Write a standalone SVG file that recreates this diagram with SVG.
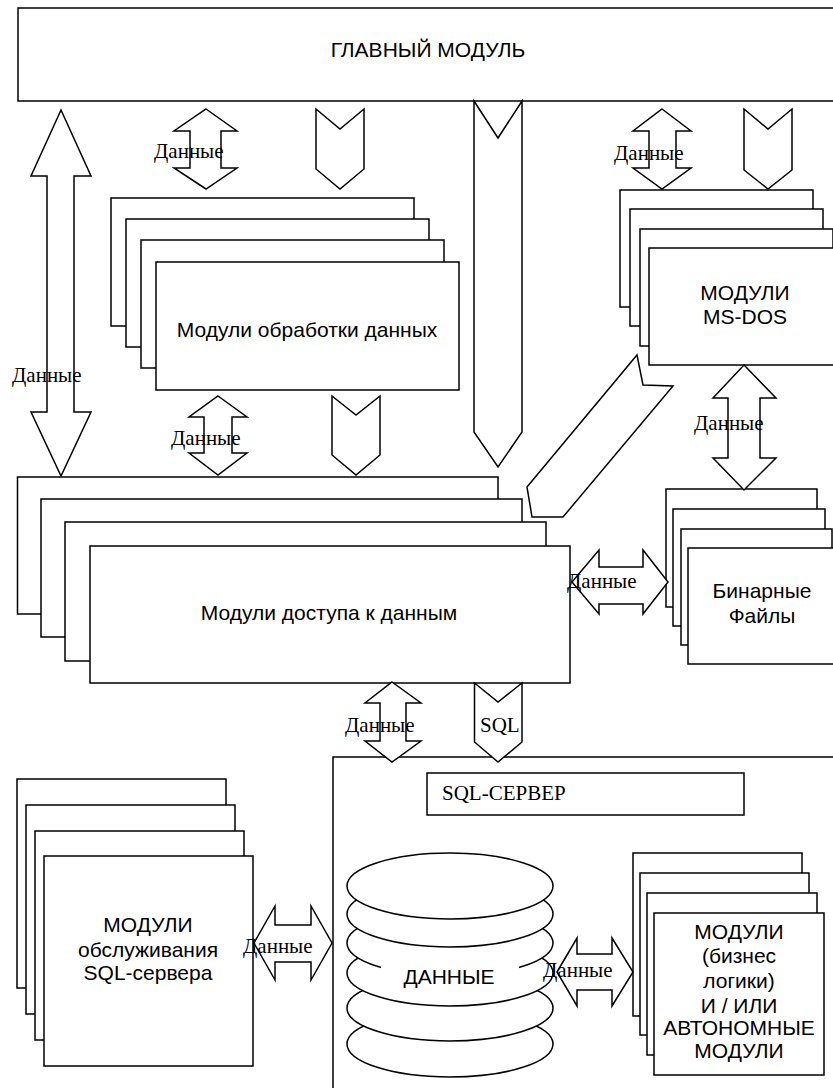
<svg xmlns="http://www.w3.org/2000/svg" width="833" height="1088" viewBox="0 0 833 1088">
<style>
.b{fill:#fff;stroke:#000;stroke-width:1.5}
.s{font-family:"Liberation Sans",Arial,sans-serif;font-size:21px;fill:#000;text-anchor:middle}
.r{font-family:"Liberation Serif","Times New Roman",serif;font-size:21px;fill:#000}
</style>
<rect x="0" y="0" width="833" height="1088" fill="#fff"/>

<g id="main-module">
<rect class="b" x="18" y="8" width="830" height="93"/>
<text class="s" x="428" y="57" font-size="20">ГЛАВНЫЙ МОДУЛЬ</text>
</g>

<g id="sql-server">
<rect class="b" x="333" y="757" width="520" height="400"/>
<rect class="b" x="427" y="773" width="317" height="42"/>
<text class="r" x="442" y="800">SQL-СЕРВЕР</text>
</g>

<g id="processing-modules">
<rect class="b" x="111" y="198" width="303" height="128"/>
<rect class="b" x="126" y="219" width="303" height="128"/>
<rect class="b" x="141" y="240" width="303" height="128"/>
<rect class="b" x="156" y="262" width="303" height="128"/>
<text class="s" x="307" y="337">Модули обработки данных</text>
</g>

<g id="msdos-modules">
<rect class="b" x="620" y="190" width="193" height="117"/>
<rect class="b" x="630" y="209" width="193" height="117"/>
<rect class="b" x="640" y="229" width="193" height="117"/>
<rect class="b" x="649" y="248" width="200" height="117"/>
<text class="s" x="745" y="300">МОДУЛИ</text>
<text class="s" x="745" y="324">MS-DOS</text>
</g>

<g id="access-modules">
<rect class="b" x="17.5" y="477" width="480.5" height="137"/>
<rect class="b" x="41" y="499" width="481" height="138"/>
<rect class="b" x="65" y="522" width="481" height="139"/>
<rect class="b" x="90" y="546" width="480" height="137"/>
<text class="s" x="329" y="620">Модули доступа к данным</text>
</g>

<g id="binary-files">
<rect class="b" x="666" y="489" width="151" height="118"/>
<rect class="b" x="673" y="509" width="152" height="117"/>
<rect class="b" x="681" y="529" width="151" height="116"/>
<rect class="b" x="688" y="548" width="160" height="116"/>
<text class="s" x="762" y="598">Бинарные</text>
<text class="s" x="762" y="623">Файлы</text>
</g>

<g id="maintenance-modules">
<rect class="b" x="17" y="779" width="209" height="209"/>
<rect class="b" x="26" y="805" width="209" height="209"/>
<rect class="b" x="35" y="831" width="209" height="209"/>
<rect class="b" x="44" y="856" width="209" height="210"/>
<text class="s" x="148" y="932">МОДУЛИ</text>
<text class="s" x="148" y="957">обслуживания</text>
<text class="s" x="148" y="980">SQL-сервера</text>
</g>

<g id="data-store">
<ellipse class="b" cx="450" cy="1044" rx="103" ry="33"/>
<ellipse class="b" cx="450" cy="1008" rx="103" ry="33"/>
<ellipse class="b" cx="450" cy="973" rx="103" ry="33"/>
<ellipse class="b" cx="450" cy="943" rx="103" ry="33"/>
<ellipse class="b" cx="450" cy="914" rx="103" ry="33"/>
<ellipse class="b" cx="450" cy="886" rx="103" ry="33"/>
<rect x="381" y="955" width="138" height="36" fill="#fff"/>
<text class="s" x="449" y="984">ДАННЫЕ</text>
</g>

<g id="business-modules">
<rect class="b" x="633" y="853" width="169" height="163"/>
<rect class="b" x="640" y="873" width="169" height="162"/>
<rect class="b" x="647" y="893" width="170" height="162"/>
<rect class="b" x="654" y="913" width="170" height="162"/>
<text class="s" x="739" y="939">МОДУЛИ</text>
<text class="s" x="739" y="963">(бизнес</text>
<text class="s" x="739" y="988">логики)</text>
<text class="s" x="739" y="1013">И / ИЛИ</text>
<text class="s" x="739" y="1035">АВТОНОМНЫЕ</text>
<text class="s" x="739" y="1058">МОДУЛИ</text>
</g>

<g id="connectors">
<!-- vertical double arrows -->
<polygon class="b" points="206,109 237,131 221,131 221,168 237,168 206,189 174,168 190,168 190,131 174,131"/>
<polygon class="b" points="61,110 91,176 74,176 74,412 91,412 61,476 31,412 47,412 47,176 31,176"/>
<polygon class="b" points="218,396 247,417 232,417 232,453 247,453 218,475 189,453 204,453 204,417 189,417"/>
<polygon class="b" points="662,109 691,131 676,131 676,168 691,168 662,189 633,168 649,168 649,131 633,131"/>
<polygon class="b" points="744,365 776,398 760,398 760,458 776,458 744,490 713,458 728,458 728,398 713,398"/>
<polygon class="b" points="392,682 421,703 406,703 406,741 421,741 392,762 365,741 380,741 380,703 365,703"/>
<!-- horizontal double arrows -->
<polygon class="b" points="572,582 599,550 599,567 643,567 643,550 668,582 643,614 643,604 599,604 599,614"/>
<polygon class="b" points="254,943 275,906 275,925 311,925 311,906 332,943 311,980 311,962 275,962 275,980"/>
<polygon class="b" points="557,972 577,938 577,954 612,954 612,938 633,972 612,1006 612,990 577,990 577,1006"/>
<!-- chevrons -->
<polygon class="b" points="316,109 340,129 364,109 364,169 340,189 316,169"/>
<polygon class="b" points="332,396 356,415 380,396 380,455 356,475 332,455"/>
<polygon class="b" points="474,101 498,138 522,101 522,432 498,467 474,432"/>
<polygon class="b" points="744,109 768,129 792,109 792,170 768,189 744,170"/>
<polygon class="b" points="474.5,683 498,702 522,683 522,742 498,762 474.5,742"/>
<polygon class="b" points="637,355 643,385 673,386 563,517 532,517 527,487"/>
<!-- labels -->
<text class="r" x="154" y="158">Данные</text>
<text class="r" x="12" y="382">Данные</text>
<text class="r" x="171" y="445">Данные</text>
<text class="r" x="614" y="160">Данные</text>
<text class="r" x="694" y="430">Данные</text>
<text class="r" x="567" y="588">Данные</text>
<text class="r" x="345" y="732">Данные</text>
<text class="r" x="480" y="732">SQL</text>
<text class="r" x="243" y="953">Данные</text>
<text class="r" x="543" y="977">Данные</text>
</g>
</svg>
